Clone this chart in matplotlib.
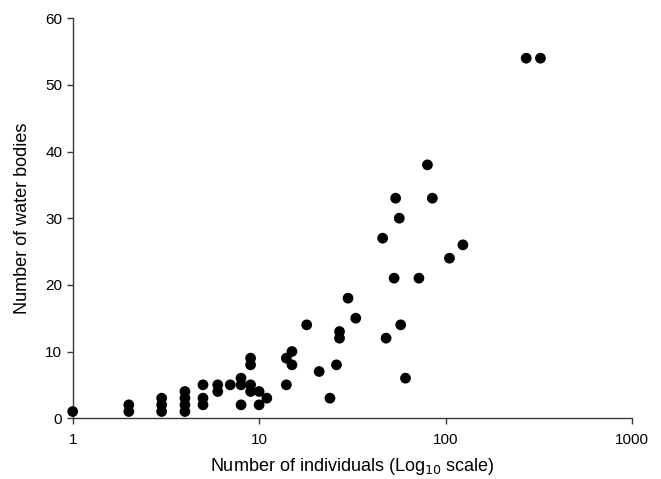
import numpy as np
import matplotlib.pyplot as plt

plt.rcParams['font.family'] = ['Liberation Sans', 'DejaVu Sans']

# number of individuals per species (x) and number of water bodies (y)
individuals = [1,
               2, 2,
               3, 3, 3,
               4, 4, 4, 4,
               5, 5, 5,
               6, 6,
               7,
               8, 8, 8,
               9, 9, 9, 9,
               10, 10,
               11,
               14, 14, 15, 15,
               18, 21, 24, 26, 27, 27, 30, 33,
               46, 48, 53, 54, 56.5, 57.5, 61,
               72, 80, 85, 105, 124,
               271, 323]
water_bodies = [1,
                2, 1,
                3, 2, 1,
                4, 3, 2, 1,
                5, 3, 2,
                5, 4,
                5,
                6, 5, 2,
                9, 8, 5, 4,
                4, 2,
                3,
                9, 5, 10, 8,
                14, 7, 3, 8, 13, 12, 18, 15,
                27, 12, 21, 33, 30, 14, 6,
                21, 38, 33, 24, 26,
                54, 54]

fig = plt.figure(figsize=(6.61, 4.79), dpi=100)
ax = fig.add_axes([0.110, 0.127, 0.846, 0.835])

ax.scatter(individuals, water_bodies, s=60, c='black', edgecolors='none',
           zorder=3, clip_on=False)

ax.set_xscale('log')
ax.set_xlim(1, 1000)
ax.set_ylim(0, 60)
ax.set_xticks([1, 10, 100, 1000])
ax.set_xticklabels(['1', '10', '100', '1000'])
ax.xaxis.set_minor_locator(plt.NullLocator())
ax.set_yticks(np.arange(0, 61, 10))

for s in ['top', 'right']:
    ax.spines[s].set_visible(False)
for s in ['left', 'bottom']:
    ax.spines[s].set_color('#383838')
    ax.spines[s].set_linewidth(1.0)
ax.tick_params(direction='out', length=4.5, width=1, color='#383838',
               labelsize=11)
ax.tick_params(axis='x', pad=6)
ax.tick_params(axis='y', pad=3)

ax.set_xlabel('Number of individuals (Log$_{10}$ scale)', fontsize=13, labelpad=7)
ax.set_ylabel('Number of water bodies', fontsize=13, labelpad=10)

fig.savefig('out.png', dpi=100)
